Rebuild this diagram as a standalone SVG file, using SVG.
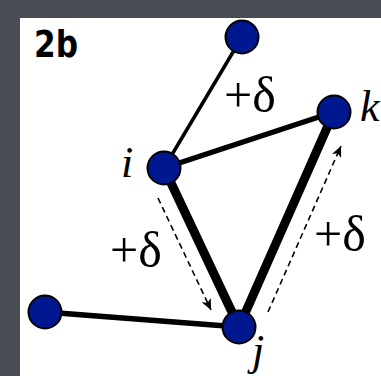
<svg xmlns="http://www.w3.org/2000/svg" width="381" height="376" viewBox="0 0 381 376">
<style>
.node{fill:#00188f;stroke:#000;stroke-width:2}
.edge{stroke:#000;stroke-linecap:round;fill:none}
.dash{stroke:#000;stroke-width:1.6;stroke-dasharray:6 4;fill:none}
.delta{font-family:"Liberation Serif",serif;font-size:50px;fill:#000}
.var{font-family:"Liberation Serif",serif;font-style:italic;font-size:44px;fill:#000}
.title{font-family:"DejaVu Sans",sans-serif;font-weight:bold;font-size:38px;fill:#000}
</style>
<defs>
<marker id="ah" markerUnits="userSpaceOnUse" markerWidth="12" markerHeight="10" refX="11" refY="5" orient="auto">
<path d="M0,0 L11,5 L0,10 L3,5 z" fill="#000"/>
</marker>
</defs>
<rect x="0" y="0" width="381" height="376" fill="#4a4c54"/>
<rect x="20" y="18" width="361" height="358" fill="#fff"/>
<text class="title" x="34" y="57" textLength="44" lengthAdjust="spacingAndGlyphs">2b</text>
<g id="connectors">
<line class="edge" x1="242" y1="37" x2="164" y2="168" stroke-width="3.5"/>
<line class="edge" x1="164" y1="168" x2="334" y2="112" stroke-width="5.5"/>
<line class="edge" x1="164" y1="168" x2="239" y2="327" stroke-width="9"/>
<line class="edge" x1="334" y1="112" x2="239" y2="327" stroke-width="9"/>
<line class="edge" x1="45" y1="312" x2="239" y2="327" stroke-width="5.5"/>
<line class="dash" x1="158" y1="198" x2="211" y2="310" marker-end="url(#ah)"/>
<line class="dash" x1="268" y1="312" x2="341" y2="146" marker-end="url(#ah)"/>
</g>
<g id="node-top"><circle class="node" cx="242" cy="37" r="16.5"/></g>
<g id="node-k"><circle class="node" cx="334" cy="112" r="16.5"/><text class="var" x="360" y="121" font-size="42">k</text></g>
<g id="node-i"><circle class="node" cx="164" cy="168" r="16.5"/><text class="var" x="121" y="177">i</text></g>
<g id="node-j"><circle class="node" cx="239" cy="327" r="16.5"/><text class="var" x="252" y="365">j</text></g>
<g id="node-left"><circle class="node" cx="45" cy="312" r="16.5"/></g>
<g id="labels">
<text class="delta" x="224" y="112">+δ</text>
<text class="delta" x="314" y="251">+δ</text>
<text class="delta" x="110" y="267">+δ</text>
</g>
</svg>
